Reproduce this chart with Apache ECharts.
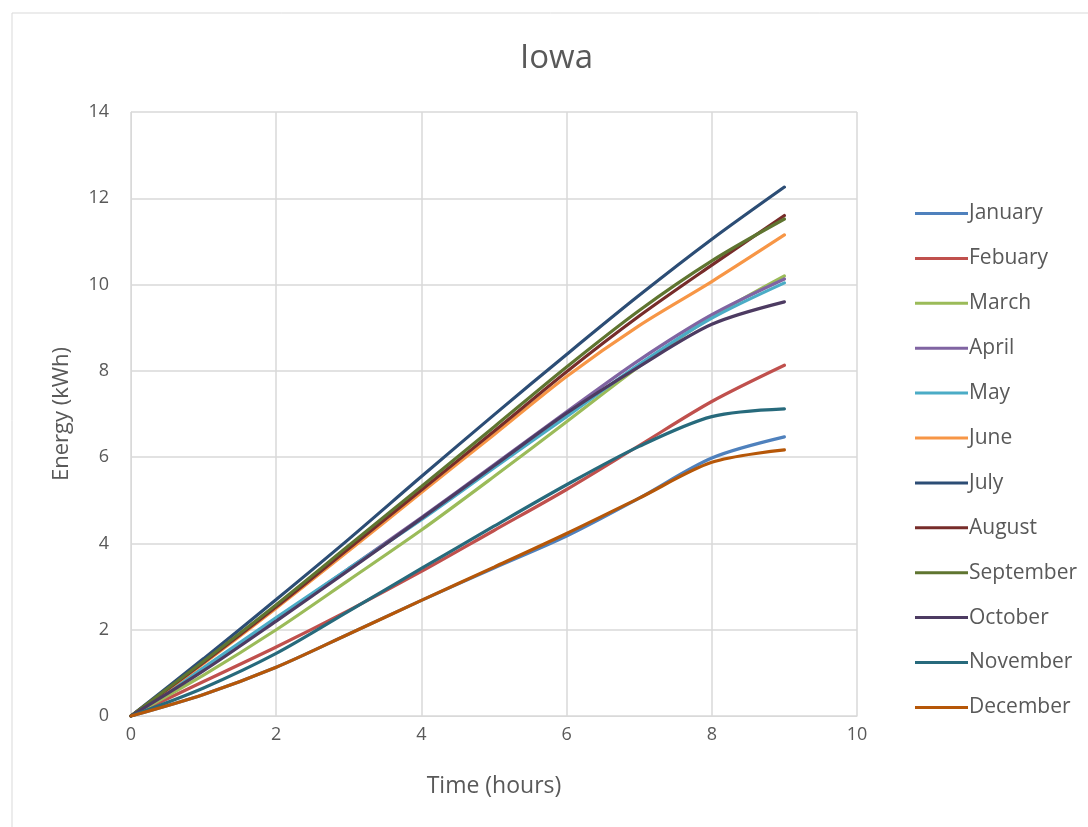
<!DOCTYPE html>
<html>
<head>
<meta charset="utf-8">
<script src="https://cdn.jsdelivr.net/npm/echarts@6/dist/echarts.min.js"></script>
<style>
  html, body { margin: 0; padding: 0; background: #ffffff; }
  #chart { width: 1088px; height: 827px; }
</style>
</head>
<body>
<div id="chart"></div>
<script>
// Hours of the day since start of generation
const hours = [0, 1, 2, 3, 4, 5, 6, 7, 8, 9];

const months = ['January', 'Febuary', 'March', 'April', 'May', 'June',
  'July', 'August', 'September', 'October', 'November', 'December'];

// Cumulative energy (kWh) per month
const january   = [0, 0.50, 1.13, 1.90, 2.68, 3.43, 4.17, 5.05, 5.98, 6.47];
const febuary   = [0, 0.80, 1.60, 2.45, 3.35, 4.30, 5.25, 6.27, 7.29, 8.13];
const march     = [0, 0.95, 2.00, 3.15, 4.31, 5.55, 6.82, 8.10, 9.25, 10.20];
const april     = [0, 1.10, 2.25, 3.42, 4.60, 5.82, 7.05, 8.25, 9.30, 10.13];
const may       = [0, 1.12, 2.28, 3.42, 4.55, 5.75, 6.94, 8.15, 9.22, 10.04];
const june      = [0, 1.22, 2.50, 3.83, 5.18, 6.52, 7.87, 9.05, 10.07, 11.15];
const july      = [0, 1.33, 2.70, 4.10, 5.55, 6.98, 8.38, 9.75, 11.05, 12.26];
const august    = [0, 1.24, 2.53, 3.88, 5.24, 6.60, 7.98, 9.27, 10.45, 11.60];
const september = [0, 1.27, 2.58, 3.95, 5.32, 6.70, 8.09, 9.40, 10.55, 11.52];
const october   = [0, 1.05, 2.20, 3.38, 4.58, 5.80, 7.02, 8.10, 9.08, 9.60];
const november  = [0, 0.65, 1.45, 2.43, 3.42, 4.40, 5.36, 6.25, 6.94, 7.12];
const december  = [0, 0.50, 1.13, 1.90, 2.68, 3.45, 4.23, 5.05, 5.88, 6.17];

const monthValues = [january, febuary, march, april, may, june,
  july, august, september, october, november, december];

const colors = ['#4F81BD', '#C0504D', '#9BBB59', '#8064A2', '#4BACC6', '#F79646',
  '#2C4D75', '#772C2A', '#5F7530', '#4D3B62', '#276A7C', '#B65708'];

const xTicks = [0, 2, 4, 6, 8, 10];
const yTicks = [0, 2, 4, 6, 8, 10, 12, 14];

const FONT = '"Open Sans", Lato, sans-serif';
const TEXT = '#595959';
const GRID = '#D9D9D9';

const chart = echarts.init(document.getElementById('chart'), null, { renderer: 'canvas' });

chart.setOption({
  backgroundColor: '#ffffff',
  animation: false,
  color: colors,
  graphic: [{
    type: 'rect',
    shape: { x: 12, y: 13, width: 1100, height: 900 },
    style: { fill: 'none', stroke: GRID, lineWidth: 1 },
    silent: true
  }],
  title: {
    text: 'Iowa',
    left: 515,
    top: 37,
    textStyle: { fontFamily: FONT, fontSize: 33, fontWeight: 'normal', color: TEXT }
  },
  legend: {
    orient: 'vertical',
    left: 910,
    top: 198,
    itemWidth: 53,
    itemHeight: 14,
    itemGap: 23.9,
    icon: 'path://M0,6 L53,6 L53,9 L0,9 Z',
    data: months,
    textStyle: { fontFamily: FONT, fontSize: 21, color: TEXT, padding: [0, 0, 0, -4] }
  },
  grid: { left: 131, right: 231, top: 112, bottom: 111, containLabel: false },
  xAxis: {
    type: 'value',
    min: xTicks[0],
    max: xTicks[xTicks.length - 1],
    interval: xTicks[1] - xTicks[0],
    name: 'Time (hours)',
    nameLocation: 'middle',
    nameGap: 59,
    nameTextStyle: { fontFamily: FONT, fontSize: 23, color: TEXT },
    axisLine: { show: true, lineStyle: { color: GRID, width: 1 } },
    axisTick: { show: false },
    axisLabel: { fontFamily: FONT, fontSize: 18, color: TEXT, margin: 10 },
    splitLine: { show: true, lineStyle: { color: GRID, width: 1.5 } }
  },
  yAxis: {
    type: 'value',
    min: yTicks[0],
    max: yTicks[yTicks.length - 1],
    interval: yTicks[1] - yTicks[0],
    name: 'Energy (kWh)',
    nameLocation: 'middle',
    nameGap: 58,
    nameTextStyle: { fontFamily: FONT, fontSize: 22, color: TEXT },
    axisLine: { show: true, lineStyle: { color: GRID, width: 1 } },
    axisTick: { show: false },
    axisLabel: { fontFamily: FONT, fontSize: 18, color: TEXT, margin: 22 },
    splitLine: { show: true, lineStyle: { color: GRID, width: 1.5 } }
  },
  series: months.map((name, i) => ({
    name: name,
    type: 'line',
    smooth: 0.3,
    showSymbol: false,
    symbol: 'none',
    lineStyle: { width: 3.2, color: colors[i], cap: 'round' },
    data: hours.map((h, k) => [h, monthValues[i][k]])
  }))
});
</script>
</body>
</html>
